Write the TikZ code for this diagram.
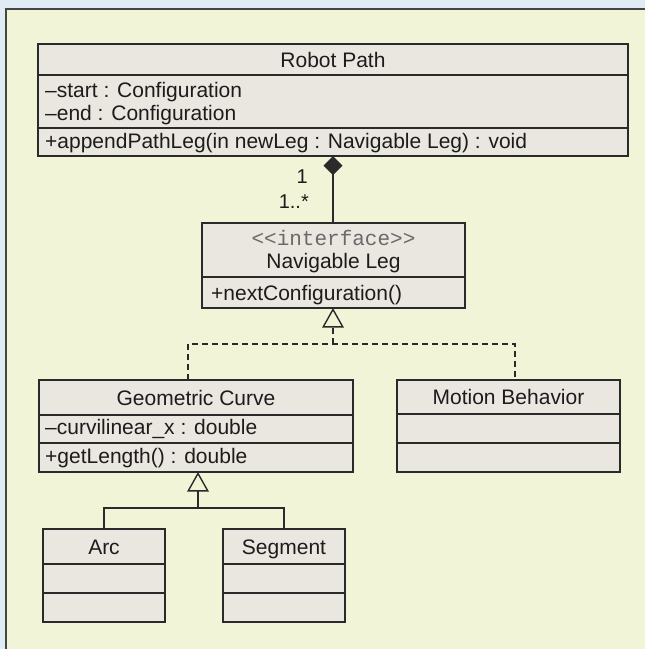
\documentclass[tikz,border=0pt]{standalone}
\usepackage{fontspec}
\setmainfont{Liberation Sans}
\setmonofont{Liberation Mono}
\usetikzlibrary{arrows.meta}
\definecolor{outerbg}{HTML}{DFECF3}
\definecolor{panel}{HTML}{F1F4D7}
\definecolor{panelline}{HTML}{454545}
\definecolor{boxfill}{HTML}{EAE6E0}
\definecolor{linec}{HTML}{2A2A2A}
\definecolor{txt}{HTML}{1E1B1C}
\definecolor{stereo}{HTML}{6A6A6A}
\begin{document}
\begin{tikzpicture}[x=1pt,y=-1pt,
  part/.style={draw=linec, fill=boxfill, line width=1.4pt, rectangle, inner sep=0pt, outer sep=0pt, anchor=north west},
  hdr/.style={part, font=\fontsize{21}{24}\selectfont, text=txt, text height=15pt, text depth=0pt},
  lbl/.style={anchor=base west, inner sep=0pt, font=\fontsize{21}{24}\selectfont, text=txt},
  mult/.style={anchor=base east, inner sep=0pt, font=\fontsize{20}{24}\selectfont, text=txt},
  conn/.style={draw=linec, line width=1.4pt},
  real/.style={conn, dash pattern=on 6pt off 4pt},
  opentri/.style={-{Triangle[open, length=19.5pt, width=21.5pt]}},
  compo/.style={{Diamond[length=19pt, width=19pt]}-}
]
\fill[outerbg] (0,0) rectangle (645,649);
\useasboundingbox (0,0) rectangle (645,649);
\fill[panel] (5.5,8.5) rectangle (645,649);
\draw[panelline, line width=2pt] (5.5,649) -- (5.5,8.5) -- (645,8.5);

% Robot Path
\node[hdr, minimum width=590pt, minimum height=31pt] (rp1) at (38,44) {Robot Path};
\node[part, minimum width=590pt, minimum height=53pt] (rp2) at (38,75) {};
\node[part, minimum width=590pt, minimum height=28pt] (rp3) at (38,128) {};
\node[lbl] (rpa1) at (45,97) {–start : Configuration};
\node[lbl] (rpa2) at (45,120) {–end : Configuration};
\node[lbl] (rpo1) at (45,148) {+appendPathLeg(in newLeg : Navigable Leg) : void};

% Navigable Leg
\node[part, minimum width=263pt, minimum height=54pt] (nl1) at (202,223) {};
\node[part, minimum width=263pt, minimum height=31pt] (nl2) at (202,277) {};
\node[anchor=base, inner sep=0pt, font=\ttfamily\fontsize{21}{24}\selectfont, text=stereo] (nls) at (333.5,245) {<{}<interface>{}>};
\node[lbl, anchor=base] (nlt) at (333.5,268) {Navigable Leg};
\node[lbl] (nlo) at (211,300) {+nextConfiguration()};

% Geometric Curve
\node[hdr, minimum width=314pt, minimum height=35pt] (gc1) at (39,380) {Geometric Curve};
\node[part, minimum width=314pt, minimum height=28pt] (gc2) at (39,415) {};
\node[part, minimum width=314pt, minimum height=29pt] (gc3) at (39,443) {};
\node[lbl] (gca) at (45,434) {–curvilinear\_x : double};
\node[lbl] (gco) at (45,463) {+getLength() : double};

% Motion Behavior
\node[hdr, minimum width=223pt, minimum height=34pt] (mb1) at (397,380) {Motion Behavior};
\node[part, minimum width=223pt, minimum height=29pt] (mb2) at (397,414) {};
\node[part, minimum width=223pt, minimum height=29pt] (mb3) at (397,443) {};

% Arc
\node[hdr, minimum width=122pt, minimum height=35pt] (arc1) at (43,529) {Arc};
\node[part, minimum width=122pt, minimum height=29pt] (arc2) at (43,564) {};
\node[part, minimum width=122pt, minimum height=29pt] (arc3) at (43,593) {};

% Segment
\node[hdr, minimum width=122pt, minimum height=35pt] (seg1) at (223,529) {Segment};
\node[part, minimum width=122pt, minimum height=29pt] (seg2) at (223,564) {};
\node[part, minimum width=122pt, minimum height=29pt] (seg3) at (223,593) {};

% composition
\coordinate (cj) at (333,344);
\draw[conn, compo] (rp3.south -| cj) -- (nl1.north -| cj);
\node[mult] (m1) at (308,183) {1};
\node[mult] (m2) at (309,208) {1..*};

% realization
\coordinate (cjl) at (188,344);
\coordinate (cjr) at (515,344);
\draw[real] (cjl |- gc1.north) -- (cjl) -- (cjr) -- (cjr |- mb1.north);
\draw[real, opentri] (cj) -- (cj |- nl2.south);

% generalization
\coordinate (gj) at (198,508);
\draw[conn] (arc1.north) |- (gj) -| (seg1.north);
\draw[conn, opentri] (gj) -- (gj |- gc3.south);
\end{tikzpicture}
\end{document}
